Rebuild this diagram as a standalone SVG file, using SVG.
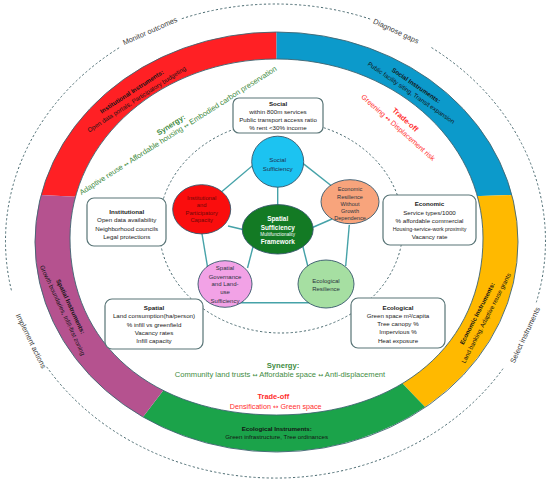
<svg xmlns="http://www.w3.org/2000/svg" width="550" height="486" viewBox="0 0 550 486">
<style>
text{font-family:"Liberation Sans",Arial,sans-serif;text-anchor:middle}
.ol{font-size:7.4px;fill:#3a3a3a}
.dash{fill:none;stroke:#4a6a70;stroke-width:1;stroke-dasharray:2.2 2.2}
.rt{font-size:6.2px;fill:#141414}
.b{font-weight:bold}
.box{fill:#fff;stroke:#587476;stroke-width:1.2}
.bt{font-size:6.2px;fill:#1a1a1a}
.nd{stroke:#34566a;stroke-width:0.9}
.nt{font-size:6px;fill:#2b3440}
.cn{stroke:#45a2a8;stroke-width:1.4;fill:none}
.syn{fill:#3f8c3f}
.tr{fill:#ff2d2d}
.ar{font-family:"DejaVu Sans",sans-serif}
.edge{fill:none;stroke:#3e6470;stroke-width:0.9}
</style>

<!-- outer dashed cycle -->
<g id="cycle">
<path class="dash" d="M181.8,18.7 A270,237 0 0 1 371.8,19.6"/>
<path class="dash" d="M431.5,47.6 A270,237 0 0 1 536.3,302.3"/>
<path class="dash" d="M503,368.7 A270,237 0 0 1 46.7,366.9"/>
<path class="dash" d="M11.4,290.3 A270,237 0 0 1 119.9,47.3"/>
<text class="ol" transform="translate(150,31) rotate(-24)" y="2.6">Monitor outcomes</text>
<text class="ol" transform="translate(396,31) rotate(25)" y="2.6">Diagnose gaps</text>
<text class="ol" transform="translate(525,335) rotate(-65)" y="2.6">Select instruments</text>
<text class="ol" transform="translate(31,341) rotate(64)" y="2.6">Implement actions</text>
</g>

<!-- instrument ring -->
<g id="ring">
<path id="ring-institutional" fill="#ff2024" d="M100,198 L41,195 A241.5,210 0 0 1 276.5,32 L276.5,90 L276.5,240 Z"/>
<path id="ring-social" fill="#0c9acb" d="M276.5,90 L276.5,32 A241.5,210 0 0 1 511.9,195 L450,197 L276.5,240 Z"/>
<path id="ring-economic" fill="#ffb900" d="M450,197 L511.9,195 A241.5,210 0 0 1 425,407 L380,360 L276.5,240 Z"/>
<path id="ring-ecological" fill="#1ba34a" d="M380,360 L425,407 A241.5,210 0 0 1 143,417 L185,362 L276.5,240 Z"/>
<path id="ring-spatial" fill="#b5528f" d="M185,362 L143,417 A241.5,210 0 0 1 41,195 L100,198 L276.5,240 Z"/>
<path class="edge" style="fill:#fff" d="M276.5,59 C390.5,59 483,139.1 483,238 C483,344.2 400.4,415 276.5,415 C152.6,415 70,344.2 70,238 C70,139.1 162.5,59 276.5,59 Z"/>
<ellipse class="edge" cx="276.5" cy="242" rx="241.5" ry="210"/>

<g transform="translate(134,95) rotate(-33)">
<text class="rt b" y="-1.9">Institutional Instruments:</text>
<text class="rt" y="7.1">Open data portals, Participatory budgeting</text>
</g>
<g transform="translate(413.7,89) rotate(34.5)">
<text class="rt b" y="-2.2">Social Instruments:</text>
<text class="rt" y="6.6">Public facility siting, Transit expansion</text>
</g>
<g transform="translate(482,316) rotate(-62.7)">
<text class="rt b" y="-3.2">Economic Instruments:</text>
<text class="rt" y="6.8">Land banking, Adaptive reuse grants</text>
</g>
<g transform="translate(66.6,308.3) rotate(65)">
<text class="rt b" y="-2.3">Spatial Instruments:</text>
<text class="rt" y="6.7">Growth boundaries, Infill-first zoning</text>
</g>
<text class="rt b" x="276.7" y="430.5">Ecological Instruments:</text>
<text class="rt" x="276.7" y="438.9">Green infrastructure, Tree ordinances</text>
</g>

<!-- inner dashed ellipse -->
<ellipse class="dash" cx="281" cy="227" rx="122" ry="106"/>

<!-- synergies and trade-offs -->
<g id="synergy-top" transform="translate(178,130.4) rotate(-32.6)">
<text class="syn b" style="font-size:7.5px" x="-3" y="-6">Synergy:</text>
<text class="syn" style="font-size:7.5px" y="2.6">Adaptive reuse <tspan class="ar" style="font-size:6px">↔</tspan> Affordable housing <tspan class="ar" style="font-size:6px">↔</tspan> Embodied carbon preservation</text>
</g>
<g id="tradeoff-top" transform="translate(398.3,127.5) rotate(41.6)">
<text class="tr b" style="font-size:7.4px" y="-8">Trade-off</text>
<text class="tr" style="font-size:7.2px" y="2.5">Greening <tspan class="ar" style="font-size:6.5px">↔</tspan> Displacement risk</text>
</g>
<g id="synergy-bottom">
<text class="syn b" style="font-size:7.6px" x="283" y="367.7">Synergy:</text>
<text class="syn" style="font-size:7.6px" x="280" y="377">Community land trusts <tspan class="ar" style="font-size:6px">↔</tspan> Affordable space <tspan class="ar" style="font-size:6px">↔</tspan> Anti-displacement</text>
</g>
<g id="tradeoff-bottom">
<text class="tr b" style="font-size:7.4px" x="273.3" y="398.6">Trade-off</text>
<text class="tr" style="font-size:7.2px" x="275.7" y="408.5">Densification <tspan class="ar" style="font-size:6.5px">↔</tspan> Green space</text>
</g>

<!-- indicator boxes -->
<g id="box-social">
<rect class="box" x="233" y="98" width="90" height="35" rx="6"/>
<text class="bt b" x="278" y="106.3">Social</text>
<text class="bt" x="278" y="114.3">within 800m services</text>
<text class="bt" x="278" y="122.3">Public transport access ratio</text>
<text class="bt" x="278" y="130.3">% rent &lt;30% income</text>
</g>
<g id="box-institutional">
<rect class="box" x="87" y="198" width="79" height="48" rx="7"/>
<text class="bt b" x="126.7" y="214">Institutional</text>
<text class="bt" x="126.7" y="222.2">Open data availability</text>
<text class="bt" x="126.7" y="230.5">Neighborhood councils</text>
<text class="bt" x="126.7" y="238.8">Legal protections</text>
</g>
<g id="box-economic">
<rect class="box" x="383" y="195" width="93" height="50" rx="7"/>
<text class="bt b" x="429.5" y="206.2">Economic</text>
<text class="bt" x="429.5" y="214.9">Service types/1000</text>
<text class="bt" x="429.5" y="223.2">% affordable commercial</text>
<text class="bt" style="font-size:5.3px" x="429.5" y="231">Housing-service-work proximity</text>
<text class="bt" x="429.5" y="238.5">Vacancy rate</text>
</g>
<g id="box-spatial">
<rect class="box" x="105" y="299" width="98" height="50" rx="7"/>
<text class="bt b" x="154" y="310.2">Spatial</text>
<text class="bt" x="154" y="318.2">Land consumption(ha/person)</text>
<text class="bt" x="154" y="326.5">% infill vs greenfield</text>
<text class="bt" x="154" y="334.9">Vacancy rates</text>
<text class="bt" x="154" y="343.2">Infill capacity</text>
</g>
<g id="box-ecological">
<rect class="box" x="351" y="298" width="94" height="50" rx="7"/>
<text class="bt b" x="398" y="309.5">Ecological</text>
<text class="bt" x="398" y="317.5">Green space m²/capita</text>
<text class="bt" x="398" y="325.9">Tree canopy %</text>
<text class="bt" x="398" y="334.2">Impervious %</text>
<text class="bt" x="398" y="342.5">Heat exposure</text>
</g>

<!-- connectors -->
<g id="connectors">
<line class="cn" x1="256" y1="162.7" x2="219" y2="194"/>
<line class="cn" x1="302" y1="162.6" x2="331" y2="185.5"/>
<line class="cn" x1="277.7" y1="185" x2="277.7" y2="208"/>
<line class="cn" x1="228" y1="226" x2="245" y2="230"/>
<line class="cn" x1="332" y1="219" x2="309" y2="229"/>
<line class="cn" x1="201.7" y1="232" x2="207.7" y2="268"/>
<line class="cn" x1="349.3" y1="225" x2="345.7" y2="266"/>
<line class="cn" x1="253.5" y1="245" x2="247.5" y2="268"/>
<line class="cn" x1="302.5" y1="245" x2="308" y2="267"/>
<line class="cn" x1="238" y1="302.7" x2="310" y2="302.7"/>
</g>

<!-- nodes -->
<g id="node-social">
<ellipse class="nd" cx="277.7" cy="161.7" rx="26" ry="25.5" fill="#1cc3f1"/>
<text class="nt" style="font-size:6.2px;fill:#1d3050" x="277.7" y="162.2">Social</text>
<text class="nt" style="font-size:6.2px;fill:#1d3050" x="277.7" y="170.5">Sufficiency</text>
</g>
<g id="node-economic">
<ellipse class="nd" cx="350" cy="201.7" rx="29" ry="22" fill="#f8a47c"/>
<text class="nt" style="font-size:5.6px" x="350" y="191.3">Economic</text>
<text class="nt" style="font-size:5.6px" x="350" y="198.7">Resilience</text>
<text class="nt" style="font-size:5.6px" x="350" y="205.7">Without</text>
<text class="nt" style="font-size:5.6px" x="350" y="213">Growth</text>
<text class="nt" style="font-size:5.6px" x="350" y="220.3">Dependence</text>
</g>
<g id="node-institutional">
<ellipse class="nd" cx="201.7" cy="209.3" rx="29" ry="24.6" fill="#fa0d0d"/>
<text class="nt" style="font-size:5.8px;fill:#6e0808" x="201.7" y="199.8">Institutional</text>
<text class="nt" style="font-size:5.8px;fill:#6e0808" x="201.7" y="207">and</text>
<text class="nt" style="font-size:5.8px;fill:#6e0808" x="201.7" y="215">Participatory</text>
<text class="nt" style="font-size:5.8px;fill:#6e0808" x="201.7" y="222.4">Capacity</text>
</g>
<g id="node-center">
<ellipse class="nd" cx="277.7" cy="229.3" rx="35.5" ry="24.7" fill="#137a24"/>
<text class="nt b" style="font-size:6.4px;fill:#fff" x="277.7" y="221.3">Spatial</text>
<text class="nt b" style="font-size:6.4px;fill:#fff" x="277.7" y="229.6">Sufficiency</text>
<text class="nt" style="font-size:4.7px;fill:#fff" x="277.7" y="236.4">Multifunctionality</text>
<text class="nt b" style="font-size:6.4px;fill:#fff" x="277.7" y="244.2">Framework</text>
</g>
<g id="node-spatial">
<ellipse class="nd" cx="225" cy="284" rx="27" ry="23.3" fill="#f2a2e6"/>
<text class="nt" x="225" y="270.4">Spatial</text>
<text class="nt" x="225" y="278.8">Governance</text>
<text class="nt" x="225" y="286.4">and Land-</text>
<text class="nt" x="225" y="294.1">use</text>
<text class="nt" x="225" y="302.8">Sufficiency</text>
</g>
<g id="node-ecological">
<ellipse class="nd" cx="326" cy="284" rx="28" ry="24" fill="#a6dfa2"/>
<text class="nt" x="326" y="282.8">Ecological</text>
<text class="nt" x="326" y="290.8">Resilience</text>
</g>
</svg>
